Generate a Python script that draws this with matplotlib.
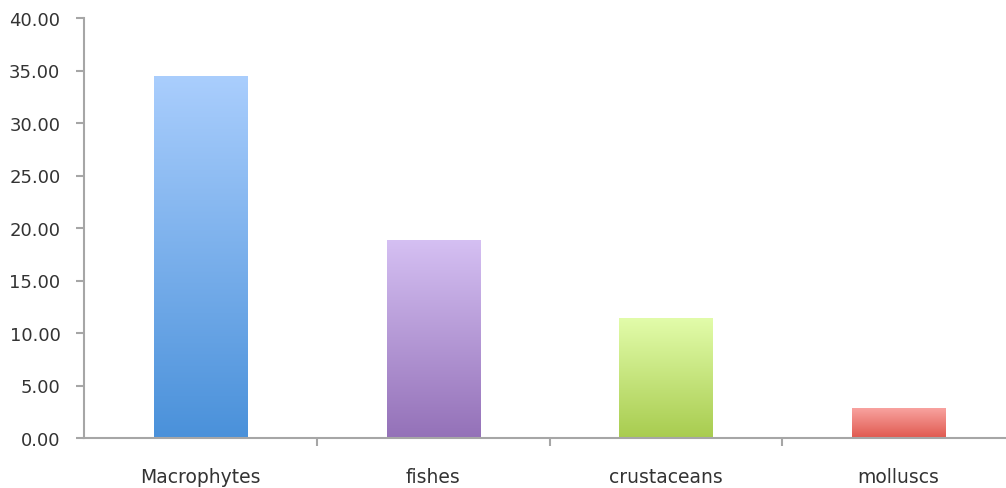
import numpy as np
import matplotlib.pyplot as plt
from matplotlib.colors import LinearSegmentedColormap

categories = ['Macrophytes', 'fishes', 'crustaceans', 'molluscs']
values = [34.5, 18.9, 11.4, 2.9]
# (top colour, bottom colour) of each bar's vertical gradient
bar_gradients = [('#aacefd', '#4a91da'),
                 ('#d5c0f3', '#9471b8'),
                 ('#e2fcaa', '#a8cc4f'),
                 ('#f9a5a2', '#e0594f')]
y_ticks = [0, 5, 10, 15, 20, 25, 30, 35, 40]

fig = plt.figure(figsize=(10.06, 4.89), dpi=100)
W, H = 1006, 489
ax = fig.add_axes([84 / W, 50 / H, 931 / W, 420 / H])

x = np.arange(len(categories))
bars = ax.bar(x, values, width=0.40, color='none', edgecolor='none', zorder=2)

# paint a vertical gradient inside every bar
grad = np.linspace(1, 0, 256).reshape(-1, 1)
for rect, (top, bottom) in zip(bars, bar_gradients):
    cmap = LinearSegmentedColormap.from_list('g', [bottom, top])
    x0, y0 = rect.get_x(), rect.get_y()
    img = ax.imshow(grad, cmap=cmap, aspect='auto', origin='upper',
                    extent=[x0, x0 + rect.get_width(), y0, y0 + rect.get_height()],
                    zorder=2)
    img.set_clip_path(rect)

ax.set_xlim(-0.5, len(categories) - 0.5)
ax.set_ylim(0, 40)

axis_color = '#a6a6a6'
for side in ['top', 'right']:
    ax.spines[side].set_visible(False)
for side in ['left', 'bottom']:
    ax.spines[side].set_color(axis_color)
    ax.spines[side].set_linewidth(1.5)

ax.set_yticks(y_ticks)
ax.set_yticklabels([f'{v:.2f}' for v in y_ticks])
ax.tick_params(axis='y', direction='out', length=6, width=1.5, color=axis_color,
               pad=11, labelsize=13, labelcolor='#333333')

# category labels centred under bars, tick marks between categories
ax.set_xticks(x)
ax.set_xticklabels(categories)
ax.tick_params(axis='x', length=0, pad=21, labelsize=13.5, labelcolor='#333333')
ax.set_xticks(x[:-1] + 0.5, minor=True)
ax.tick_params(axis='x', which='minor', direction='out', length=6, width=1.5,
               color=axis_color)

fig.savefig('out.png', dpi=100)
